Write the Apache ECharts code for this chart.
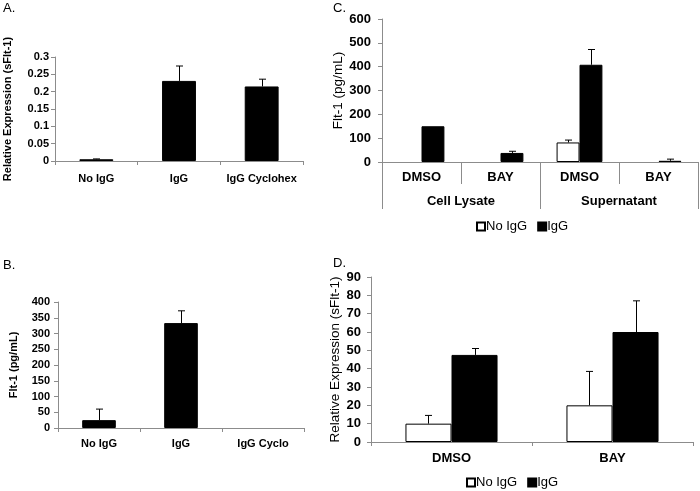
<!DOCTYPE html>
<html><head><meta charset="utf-8">
<script src="https://cdn.jsdelivr.net/npm/echarts@6/dist/echarts.min.js"></script>
<style>html,body{margin:0;padding:0;background:#fff}#c{width:700px;height:491px}</style>
</head><body><div id="c"></div>
<script>
// Panel A
const catsA = ['No IgG', 'IgG', 'IgG Cyclohex'];
const valsA = [0.005, 0.231, 0.215];
const errA = [0.006, 0.274, 0.236];
const ticksA = [0, 0.3, 0.05];
// Panel B (null = no bar drawn)
const catsB = ['No IgG', 'IgG', 'IgG Cyclo'];
const valsB = [25, 333, null];
const errB = [60, 372, null];
const ticksB = [0, 400, 50];
// Panel C
const catsC = ['DMSO', 'BAY', 'DMSO', 'BAY'];
const groupsC = ['Cell Lysate', 'Supernatant'];
const noIgGC = [null, null, 82, null];
const noIgGCerr = [null, null, 92, null];
const igGC = [150, 38, 408, 5];
const igGCerr = [150, 45, 472, 12];
const ticksC = [0, 600, 100];
// Panel D
const catsD = ['DMSO', 'BAY'];
const noIgGD = [10, 20];
const noIgGDerr = [14.5, 38.5];
const igGD = [47.5, 60];
const igGDerr = [51, 77];
const ticksD = [0, 90, 10];

const AX = '#8c8c8c';
const FF = 'Liberation Sans, Arial, sans-serif';

function errRender(params, api) {
  const cat = api.value(0), val = api.value(1), top = api.value(2), slot = api.value(3), bw = api.value(4);
  if (isNaN(val) || isNaN(top) || top <= val) return null;
  const base = api.coord([cat, val]);
  const tp = api.coord([cat, top]);
  const cw = api.size([1, 0])[0];
  const x = Math.round(base[0] + slot * bw * cw) + 0.5;
  const st = { stroke: '#000', lineWidth: 1 };
  return { type: 'group', children: [
    { type: 'line', shape: { x1: x, y1: base[1], x2: x, y2: tp[1] }, style: st },
    { type: 'line', shape: { x1: x - 3.5, y1: tp[1], x2: x + 3.5, y2: tp[1] }, style: st }
  ]};
}
function errData(vals, errs, slot, bw) {
  return vals.map((v, i) => [i, v == null ? NaN : v, errs[i] == null ? NaN : errs[i], slot, bw]);
}
function yAx(g, t, fs, bold, margin, name, gap, nfs, nbold) {
  return { type: 'value', gridIndex: g, min: t[0], max: t[1], interval: t[2],
    axisLine: { show: true, lineStyle: { color: AX } },
    axisTick: { show: true, length: 4, lineStyle: { color: AX } },
    splitLine: { show: false },
    axisLabel: { color: '#000', fontSize: fs, fontWeight: bold ? 'bold' : 'normal', fontFamily: FF, margin: margin },
    name: name, nameLocation: 'middle', nameRotate: 90, nameGap: gap,
    nameTextStyle: { color: '#000', fontSize: nfs, fontWeight: nbold ? 'bold' : 'normal', fontFamily: FF } };
}
function xAx(g, cats, fs, bold, margin) {
  return { type: 'category', gridIndex: g, data: cats, position: 'bottom',
    axisLine: { show: true, lineStyle: { color: AX } },
    axisTick: { show: true, length: 4, interval: 0, lineStyle: { color: AX } },
    axisLabel: { color: '#000', fontSize: fs, fontWeight: bold ? 'bold' : 'normal', fontFamily: FF, margin: margin, interval: 0 } };
}
const blackStyle = { color: '#000', borderColor: '#000', borderWidth: 1 };
const whiteStyle = { color: '#fff', borderColor: '#000', borderWidth: 1 };

const xC = xAx(2, catsC, 13, true, 9);
xC.axisTick.length = 22;
const xC2 = xAx(2, groupsC, 13, true, 33);
xC2.axisLine.show = false;
xC2.axisTick.length = 47;

const letter = { fontSize: 13, fontWeight: 'normal', fontFamily: FF, color: '#000' };
const legText = { fontSize: 13, fontFamily: FF, color: '#000', padding: [0, 0, 0, -4] };

const option = {
  animation: false,
  backgroundColor: '#fff',
  title: [
    { text: 'A.', left: 1, top: 0, padding: 2, textStyle: letter },
    { text: 'C.', left: 331, top: 0, padding: 2, textStyle: letter },
    { text: 'B.', left: 1, top: 257, padding: 2, textStyle: letter },
    { text: 'D.', left: 331, top: 255, padding: 2, textStyle: letter }
  ],
  legend: [
    { data: ['No IgG', 'IgG'], left: 476, top: 220, padding: 0, itemWidth: 8, itemHeight: 8, itemGap: 10, icon: 'rect', textStyle: legText },
    { data: ['No IgG', 'IgG'], left: 466, top: 476, padding: 0, itemWidth: 8, itemHeight: 8, itemGap: 10, icon: 'rect', textStyle: legText }
  ],
  grid: [
    { left: 55, top: 57, width: 248, height: 104 },
    { left: 58, top: 302, width: 246, height: 126 },
    { left: 382, top: 19, width: 316, height: 143 },
    { left: 371, top: 277, width: 322, height: 165 }
  ],
  xAxis: [
    xAx(0, catsA, 11, true, 12),
    xAx(1, catsB, 11, true, 10),
    xC,
    xAx(3, catsD, 13, true, 10),
    xC2
  ],
  yAxis: [
    yAx(0, ticksA, 11, true, 6, 'Relative Expression (sFlt-1)', 42, 11, true),
    yAx(1, ticksB, 11, true, 8, 'Flt-1 (pg/mL)', 39, 11, true),
    yAx(2, ticksC, 13, true, 11, 'Flt-1 (pg/mL)', 35, 13.5, false),
    yAx(3, ticksD, 13, true, 10, 'Relative Expression (sFlt-1)', 26, 13.5, false)
  ],
  series: [
    { type: 'bar', xAxisIndex: 0, yAxisIndex: 0, data: valsA, barWidth: '41%', itemStyle: blackStyle },
    { type: 'custom', xAxisIndex: 0, yAxisIndex: 0, renderItem: errRender, data: errData(valsA, errA, 0, 0), z: 5 },
    { type: 'bar', xAxisIndex: 1, yAxisIndex: 1, data: valsB, barWidth: '41%', itemStyle: blackStyle },
    { type: 'custom', xAxisIndex: 1, yAxisIndex: 1, renderItem: errRender, data: errData(valsB, errB, 0, 0), z: 5 },
    { type: 'bar', name: 'No IgG', xAxisIndex: 2, yAxisIndex: 2, data: noIgGC, barWidth: '29%', barGap: '0%', itemStyle: whiteStyle },
    { type: 'bar', name: 'IgG', xAxisIndex: 2, yAxisIndex: 2, data: igGC, barWidth: '29%', barGap: '0%', itemStyle: blackStyle },
    { type: 'custom', xAxisIndex: 2, yAxisIndex: 2, renderItem: errRender, data: errData(noIgGC, noIgGCerr, -0.5, 0.29), z: 5 },
    { type: 'custom', xAxisIndex: 2, yAxisIndex: 2, renderItem: errRender, data: errData(igGC, igGCerr, 0.5, 0.29), z: 5 },
    { type: 'bar', name: 'No IgG', xAxisIndex: 3, yAxisIndex: 3, data: noIgGD, barWidth: '28.6%', barGap: '0%', itemStyle: whiteStyle },
    { type: 'bar', name: 'IgG', xAxisIndex: 3, yAxisIndex: 3, data: igGD, barWidth: '28.6%', barGap: '0%', itemStyle: blackStyle },
    { type: 'custom', xAxisIndex: 3, yAxisIndex: 3, renderItem: errRender, data: errData(noIgGD, noIgGDerr, -0.5, 0.286), z: 5 },
    { type: 'custom', xAxisIndex: 3, yAxisIndex: 3, renderItem: errRender, data: errData(igGD, igGDerr, 0.5, 0.286), z: 5 }
  ]
};
const chart = echarts.init(document.getElementById('c'), null, { renderer: 'canvas' });
chart.setOption(option);
</script></body></html>
